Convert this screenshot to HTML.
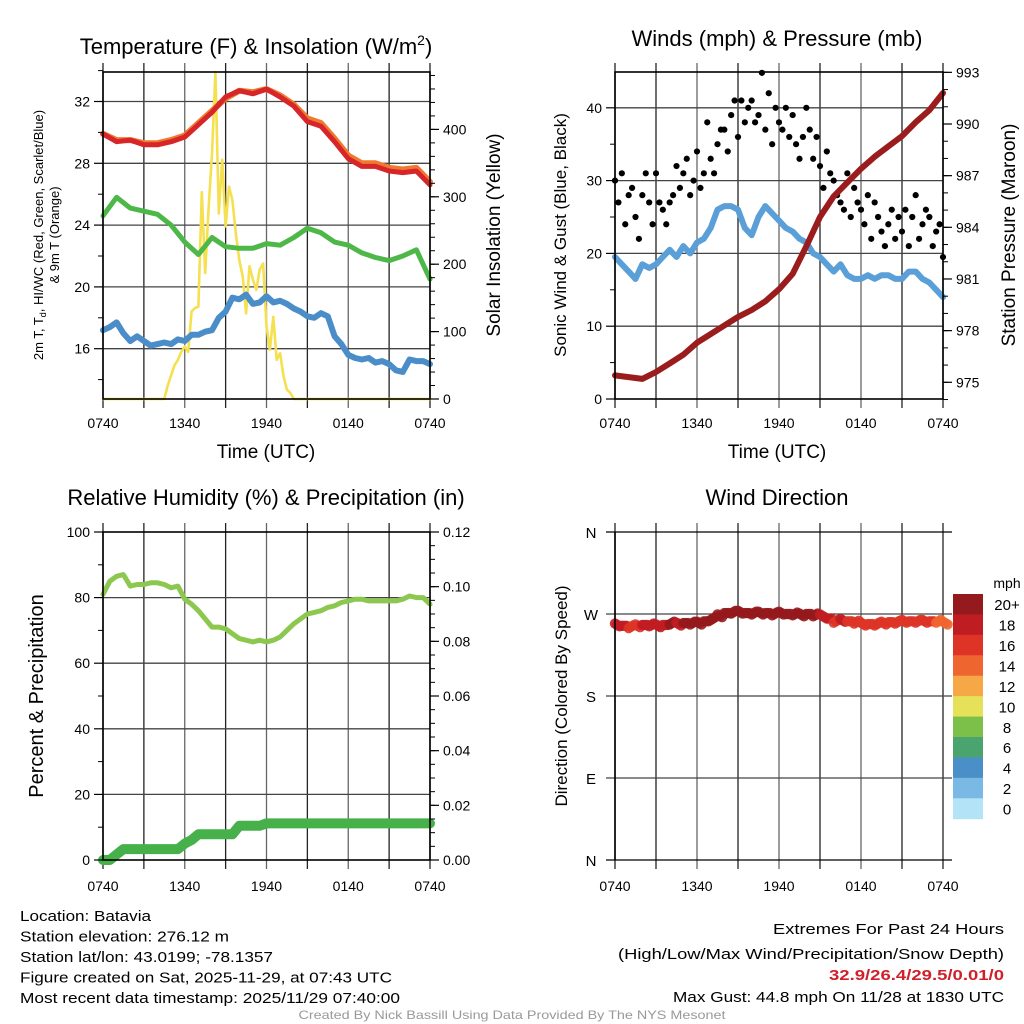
<!DOCTYPE html>
<html><head><meta charset="utf-8"><style>
html,body{margin:0;padding:0;background:#fff}
svg{display:block;font-family:"Liberation Sans",Arial,sans-serif}
</style></head><body>
<svg id="chart" width="1024" height="1024" viewBox="0 0 1024 1024" xmlns="http://www.w3.org/2000/svg">
<g id="g"></g>
</svg>
<script>
// ---- data (hour offsets from 0740 UTC) ----
const xTickLabels = ["0740","1340","1940","0140","0740"];
const tempHourly = [29.9,29.4,29.5,29.2,29.2,29.4,29.7,30.5,31.3,32.3,32.7,32.5,32.8,32.3,31.7,30.7,30.4,29.4,28.3,27.8,27.8,27.5,27.4,27.5,26.6];
const temp9mHourly = [29.9,29.5,29.5,29.3,29.3,29.5,29.8,30.6,31.4,32.2,32.7,32.6,32.8,32.4,31.8,30.9,30.6,29.6,28.5,28.0,28.0,27.7,27.6,27.7,26.8];
const dewHourly = [24.6,25.8,25.1,24.9,24.7,24.0,22.9,22.1,23.2,22.6,22.5,22.5,22.8,22.7,23.2,23.8,23.5,22.9,22.7,22.2,21.9,21.7,22.0,22.4,20.5];
const heatIndexHalfHourly = [17.2,17.4,17.7,17.0,16.5,16.8,16.5,16.2,16.3,16.4,16.3,16.6,16.5,16.9,16.9,17.1,17.2,18.0,18.4,19.3,19.2,19.5,18.9,19.0,19.4,19.0,19.1,18.9,18.6,18.4,18.1,18.0,18.3,18.1,16.8,16.3,15.6,15.4,15.3,15.4,15.1,15.2,15.0,14.6,14.5,15.3,15.2,15.2,15.0];
const solarQuarterHourly = [0,0,0,0,0,0,0,0,0,0,0,0,0,0,0,0,0,0,0,20,35,50,58,70,78,70,130,135,137,307,187,283,364,485,275,355,256,315,295,246,206,182,127,197,177,162,192,201,108,73,122,58,68,34,14,9,0,0,0,0,0,0,0,0,0,0,0,0,0,0,0,0,0,0,0,0,0,0,0,0,0,0,0,0,0,0,0,0,0,0,0,0,0,0,0,0,0];
const windHalfHourly = [19.5,18.5,17.5,16.5,18.5,18.0,18.5,19.5,20.5,19.5,21,20,21.5,22,23.5,26,26.5,26.5,26,23.5,22.5,25,26.5,25.5,24.5,23.5,23,22,21.5,20,19.5,18.5,17.5,18.5,17,16.5,16.5,17,16.5,17,17,16.5,16.5,17.5,17.5,16.5,16,15,14];
const gustQuarterHourly = [30,27,31,24,28,29,25,22,28,31,27,24,31,27,26,24,27,28,32,29,31,33,28,30,34,29,31,38,33,31,35,37,37,34,39,41,36,41,38,40,41,38,39,44.8,37,42,35,40,38,37,40,36,39,35,33,36,40,37,33,36,32,29,34,31,30,28,27,26,31,25,29,27,26,24,28,22,27,25,23,21,24,26,22,25,23,26,21,25,28,22,24,26,25,21,23,24,19.5];
const pressureHourly = [975.4,975.3,975.2,975.6,976.1,976.6,977.3,977.8,978.3,978.8,979.2,979.7,980.4,981.3,982.9,984.6,985.8,986.6,987.4,988.1,988.7,989.3,990.1,990.8,991.8];
const rhHalfHourly = [81,85,86.5,87,83.5,84,84,84.5,84.5,84,83,83.5,79.5,78,76,73.5,71,71,70.5,69,67.5,67,66.5,67,66.5,67,68,70,72,73.5,75,75.5,76,77,77.5,78.5,79,79.5,79.5,79,79,79,79,79,79.5,80.5,80,80,78];
const precipHalfHourly = [0,0,0.002,0.004,0.004,0.004,0.004,0.004,0.004,0.004,0.004,0.004,0.006,0.0073,0.0094,0.0094,0.0094,0.0094,0.0094,0.0094,0.0125,0.0125,0.0125,0.0125,0.0134,0.0134,0.0134,0.0134,0.0134,0.0134,0.0134,0.0134,0.0134,0.0134,0.0134,0.0134,0.0134,0.0134,0.0134,0.0134,0.0134,0.0134,0.0134,0.0134,0.0134,0.0134,0.0134,0.0134,0.0134];
const dirHalfHourly = [258,257,256,257,258,258,257,258,260,259,260,260,260,262,265,268,271,272,272,271,271,271,271,270,271,270,270,269,270,269,268,265,262,263,262,261,259,259,259,260,261,261,262,262,262,262,262,262,260];
const speedLevels = ["0","2","4","6","8","10","12","14","16","18","20+"];
const speedColors = ["#b3e3f7","#7ab9e3","#4a8fc7","#4aa46f","#7cc04a","#e5e25a","#f5a845","#ef6530","#dd3427","#c01d22","#951a1d"];

const NS="http://www.w3.org/2000/svg";
const G=document.getElementById('g');
function mk(tag,attrs,parent){const e=document.createElementNS(NS,tag);for(const k in attrs)e.setAttribute(k,attrs[k]);(parent||G).appendChild(e);return e;}
function txt(s,x,y,size,anchor,parent,extra){const t=mk('text',Object.assign({x:x,y:y,'font-size':size,'text-anchor':anchor||'middle',fill:'#000'},extra||{}),parent);t.textContent=s;return t;}

const X0L=103,X1L=430,X0R=615,X1R=943;
const xL=h=>X0L+h*(X1L-X0L)/24, xR=h=>X0R+h*(X1R-X0R)/24;
const p1y=v=>348.7-(v-16)*15.45, p1r=w=>399-w*0.674;
const p2y=s=>399-s*7.28, p2r=p=>382.3-(p-975)*17.22;
const p3y=r=>860-r*3.28, p3r=p=>860-p*2733.3;
const p4y=d=>860-d*0.9111;

function frame(x0,x1,y0,y1,name){
  const g=mk('g',{});
  
  
  for(let k=0;k<=8;k++){const x=x0+k*(x1-x0)/8;mk('line',{x1:x,y1:y0-9,x2:x,y2:y1+9,stroke:(k%2==0&&k>0&&k<8)?'#666':'#222','stroke-width':1.3},g);}
  return g;
}
function hgrid(x0,x1,y,g){mk('line',{x1:x0,y1:y,x2:x1,y2:y,stroke:'#444','stroke-width':1.3},g);}
function border(x0,x1,y0,y1){mk('rect',{x:x0,y:y0,width:x1-x0,height:y1-y0,fill:'none',stroke:'#000','stroke-width':1.6});}
function xlabels(fx,y,name){xTickLabels.forEach((l,i)=>{const t=txt(l,fx(i*6),y,14);});}
function leftTicks(x,vals,f,minor,labels){vals.forEach((v,i)=>{mk('line',{x1:x-9,y1:f(v),x2:x,y2:f(v),stroke:'#000','stroke-width':1.2});if(labels)txt(labels[i],x-13,f(v)+5,14,'end');});minor.forEach(v=>mk('line',{x1:x-5,y1:f(v),x2:x,y2:f(v),stroke:'#000','stroke-width':1}));}
function rightTicks(x,vals,f,minor,labels){vals.forEach((v,i)=>{mk('line',{x1:x,y1:f(v),x2:x+9,y2:f(v),stroke:'#000','stroke-width':1.2});txt(labels[i],x+13,f(v)+5,14,'start');});minor.forEach(v=>mk('line',{x1:x,y1:f(v),x2:x+5,y2:f(v),stroke:'#000','stroke-width':1}));}
function path(arr,step,fx,fy,stroke,w,name,op){
  const d=arr.map((v,i)=>(i?'L':'M')+fx(i*step).toFixed(1)+','+fy(v).toFixed(1)).join(' ');
  const p=mk('path',{d:d,fill:'none',stroke:stroke,'stroke-width':w,'stroke-linejoin':'round','stroke-linecap':'round',opacity:op||1});
  
  
  return p;
}
function range(a,b,s){const r=[];for(let v=a;v<=b+1e-9;v+=s)r.push(+v.toFixed(4));return r;}

// ===== Panel 1 =====
{const g=frame(X0L,X1L,72,399,'temperature');[16,20,24,28,32].forEach(v=>hgrid(X0L,X1L,p1y(v),g));
path(solarQuarterHourly,0.25,xL,p1r,'#f5e050',2.6,'solar-insolation-line');
path(heatIndexHalfHourly,0.5,xL,p1y,'#4a8dc8',6,'heat-index-line');
path(dewHourly,1,xL,p1y,'#4db848',5,'dewpoint-line');
path(temp9mHourly,1,xL,p1y,'#f0792f',6,'temp-9m-line');
path(tempHourly,1,xL,p1y,'#d7262a',5,'temp-2m-line');
border(X0L,X1L,72,399);
leftTicks(X0L,[16,20,24,28,32],p1y,[14,18,22,26,30,34],["16","20","24","28","32"]);
rightTicks(X1L,[0,100,200,300,400],p1r,range(20,480,20),["0","100","200","300","400"]);
xlabels(xL,428,'temp');
const t=txt('Temperature (F) & Insolation (W/m',256,54,22);
const ts=mk('tspan',{dy:-9,'font-size':14},t);ts.textContent='2';const ts2=mk('tspan',{dy:9},t);ts2.textContent=')';
const xl=txt('Time (UTC)',266,458,19);
const yl=txt('',0,0,13,'middle',null,{transform:'translate(43,235) rotate(-90)'});
yl.innerHTML='2m T, T<tspan font-size="9" dy="3">d</tspan><tspan dy="-3">, HI/WC (Red, Green, Scarlet/Blue)</tspan>';
const yl2=txt('& 9m T (Orange)',0,0,13,'middle',null,{transform:'translate(59,235) rotate(-90)'});
const yr=txt('Solar Insolation (Yellow)',0,0,19,'middle',null,{transform:'translate(500,235) rotate(-90)'});
}

// ===== Panel 2 =====
{const g=frame(X0R,X1R,72,399,'winds');[10,20,30,40].forEach(v=>hgrid(X0R,X1R,p2y(v),g));
path(windHalfHourly,0.5,xR,p2y,'#5a9fd8',6,'sonic-wind-line');
gustQuarterHourly.forEach((v,i)=>{const c=mk('circle',{cx:xR(i*0.25),cy:p2y(v),r:3.1,fill:'#000'});

});
path(pressureHourly,1,xR,p2r,'#9b1c1c',6,'pressure-line');
border(X0R,X1R,72,399);
leftTicks(X0R,[0,10,20,30,40],p2y,[5,15,25,35],["0","10","20","30","40"]);
rightTicks(X1R,[975,978,981,984,987,990,993],p2r,range(974,993,1),["975","978","981","984","987","990","993"]);
xlabels(xR,428,'winds');
const t=txt('Winds (mph) & Pressure (mb)',777,46,22);
const xl=txt('Time (UTC)',777,458,19);
const yl=txt('Sonic Wind & Gust (Blue, Black)',0,0,17,'middle',null,{transform:'translate(566,235) rotate(-90)'});
const yr=txt('Station Pressure (Maroon)',0,0,19,'middle',null,{transform:'translate(1015,235) rotate(-90)'});
}

// ===== Panel 3 =====
{const g=frame(X0L,X1L,532,860,'humidity');[20,40,60,80].forEach(v=>hgrid(X0L,X1L,p3y(v),g));
path(rhHalfHourly,0.5,xL,p3y,'#8cc850',5,'relative-humidity-line');
path(precipHalfHourly,0.5,xL,p3r,'#46b04a',10,'precipitation-line');
border(X0L,X1L,532,860);
leftTicks(X0L,[0,20,40,60,80,100],p3y,[10,30,50,70,90],["0","20","40","60","80","100"]);
rightTicks(X1L,[0,0.02,0.04,0.06,0.08,0.1,0.12],p3r,range(0.005,0.115,0.005),["0.00","0.02","0.04","0.06","0.08","0.10","0.12"]);
xlabels(xL,891,'humidity');
const t=txt('Relative Humidity (%) & Precipitation (in)',266,505,22);
const yl=txt('Percent & Precipitation',0,0,20,'middle',null,{transform:'translate(43,696) rotate(-90)'});
}

// ===== Panel 4 =====
{const g=frame(X0R,X1R,532,860,'direction');[90,180,270].forEach(v=>hgrid(X0R-9,X1R+9,p4y(v),g));
mk('line',{x1:X0R-9,y1:532,x2:X1R+9,y2:532,stroke:'#000','stroke-width':1.3});mk('line',{x1:X0R-9,y1:860,x2:X1R+9,y2:860,stroke:'#000','stroke-width':1.3});
dirHalfHourly.forEach((d,i)=>{const s=windHalfHourly[i];const idx=Math.min(10,Math.floor(s/2));
for(let j=0;j<3;j++){const c=mk('circle',{cx:xR(i*0.5+j*0.167),cy:p4y(d+(j-1)*1.5*((i%3)-1)),r:5.2,fill:speedColors[idx],opacity:0.9});

}});
mk('line',{x1:X0R,y1:532,x2:X0R,y2:860,stroke:'#000','stroke-width':1.6});
["N","E","S","W","N"].forEach((l,i)=>{const t=txt(l,591,p4y(i*90)+6,15);});
xlabels(xR,891,'direction');
const t=txt('Wind Direction',777,505,22);
const yl=txt('Direction (Colored By Speed)',0,0,17,'middle',null,{transform:'translate(567,696) rotate(-90)'});
const cb=mk('g',{});
const bh=(818.7-594)/11;
speedColors.forEach((c,i)=>{const k=10-i;mk('rect',{x:953,y:594+i*bh,width:30,height:bh+0.5,fill:speedColors[k]},cb);txt(speedLevels[k],1007,594+i*bh+bh/2+6,15,'middle',cb);});
txt('mph',1007,588,14,'middle',cb);
}

// ===== Footer text =====
{const info=["Location: Batavia","Station elevation: 276.12 m","Station lat/lon: 43.0199; -78.1357","Figure created on Sat, 2025-11-29, at 07:43 UTC","Most recent data timestamp: 2025/11/29 07:40:00"];
const w=[131,209,253,372,380];
const ig=mk('g',{});
info.forEach((s,i)=>txt(s,20,921+i*20.5,15,'start',ig,{textLength:w[i],lengthAdjust:'spacingAndGlyphs'}));
const eg=mk('g',{});
txt('Extremes For Past 24 Hours',1004,934,15,'end',eg,{textLength:231,lengthAdjust:'spacingAndGlyphs'});
txt('(High/Low/Max Wind/Precipitation/Snow Depth)',1004,959,15,'end',eg,{textLength:386,lengthAdjust:'spacingAndGlyphs'});
txt('32.9/26.4/29.5/0.01/0',1004,980,15,'end',eg,{fill:'#d0202a','font-weight':'bold',textLength:175,lengthAdjust:'spacingAndGlyphs'});
txt('Max Gust: 44.8 mph On 11/28 at 1830 UTC',1004,1002,15,'end',eg,{textLength:331,lengthAdjust:'spacingAndGlyphs'});
const f=txt('Created By Nick Bassill Using Data Provided By The NYS Mesonet',512,1019,12,'middle',null,{fill:'#999',textLength:427,lengthAdjust:'spacingAndGlyphs'});
}
</script>
</body></html>
